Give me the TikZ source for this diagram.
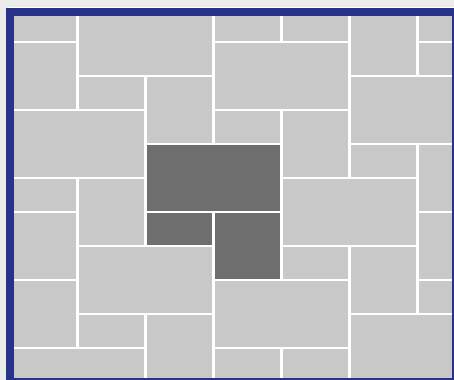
\documentclass[tikz,border=0pt]{standalone}
\definecolor{pagegray}{HTML}{EBEBE9}
\definecolor{tilegray}{HTML}{C8C8C8}
\definecolor{tiledark}{HTML}{6E6E6E}
\definecolor{frameblue}{HTML}{283289}
\begin{document}
\begin{tikzpicture}[x=2cm, y=-1cm,
  tile/.style={fill=tilegray, draw=white, line width=1.7pt},
  darktile/.style={tile, fill=tiledark}]
\path[use as bounding box, clip] (-0.1397,-0.2265) rectangle (6.537,10.950);
% page behind the frame
\fill[pagegray] (-0.1397,-0.2265) rectangle (6.537,10.950);

% Light tiles (columns a..b, rows c..d)
\foreach \a/\b/\c/\d in {
  0/1/0/1, 1/3/0/2, 3/4/0/1, 4/5/0/1, 5/6/0/2, 6/7/0/1,
  0/1/1/3, 3/5/1/3, 6/7/1/2,
  1/2/2/3, 2/3/2/4, 5/7/2/4,
  0/2/3/5, 3/4/3/4, 4/5/3/5,
  5/6/4/5, 6/7/4/6,
  0/1/5/6, 1/2/5/7, 4/6/5/7,
  0/1/6/8, 6/7/6/8,
  1/3/7/9, 4/5/7/8, 5/6/7/9,
  0/1/8/10, 3/5/8/10, 6/7/8/9,
  1/2/9/10, 2/3/9/11, 5/7/9/11,
  0/2/10/11, 3/4/10/11, 4/5/10/11
} {
  \draw[tile] (\a,\c) rectangle (\b,\d);
}

% Dark tiles in the middle
\foreach \a/\b/\c/\d in {2/4/4/6, 2/3/6/7, 3/4/6/8} {
  \draw[darktile] (\a,\c) rectangle (\b,\d);
}

% Frame
\draw[frameblue, line width=6.7pt] (0.0074,0.112) rectangle (6.562,11.0);
\end{tikzpicture}
\end{document}
